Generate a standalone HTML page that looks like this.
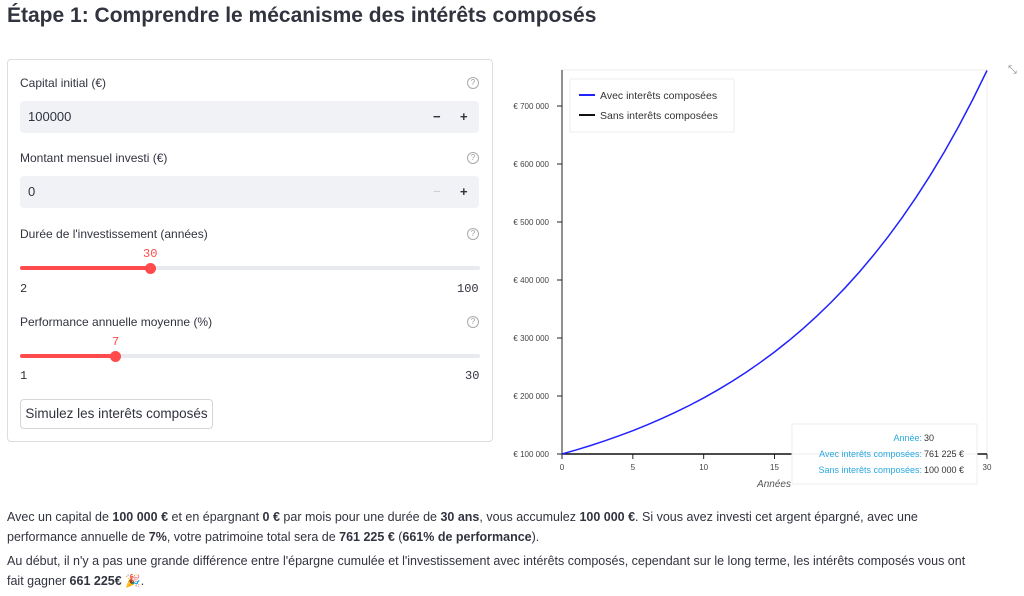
<!DOCTYPE html>
<html><head><meta charset="utf-8"><style>
body{margin:0;width:1024px;height:596px;background:#fff;font-family:"Liberation Sans",sans-serif;color:#31333F;position:relative;overflow:hidden}
.a{position:absolute}
.lbl{font-size:12px;left:20px}
.q{left:467px;width:10px;height:10px;border:1px solid #aaa;border-radius:50%;font-size:8px;text-align:center;line-height:10px;color:#999}
.inp{left:20px;width:459px;height:32px;background:#f0f2f6;border-radius:4px}
.inp span{position:absolute;top:8px;font-size:13px}
.mono{font-family:"Liberation Mono",monospace;font-size:12px}
.track{left:20px;width:460px;height:4px;background:#e8eaef;border-radius:2px}
.fill{height:4px;background:#ff4b4b;border-radius:2px}
.knob{width:11px;height:11px;border-radius:50%;background:#ff4b4b}
p{margin:0}
.txt{left:7px;font-size:12.5px;line-height:20px;width:975px}
</style></head><body>
<div class="a" style="left:7px;top:4px;font-size:21px;font-weight:bold">Étape 1: Comprendre le mécanisme des intérêts composés</div>
<div class="a" style="left:7px;top:59px;width:484px;height:381px;border:1px solid #dcdde2;border-radius:4px"></div>
<div class="a lbl" style="top:76px">Capital initial (€)</div>
<div class="a q" style="top:77px">?</div>
<div class="a inp" style="top:101px"><span style="left:8px">100000</span><span style="left:413px;font-weight:bold">−</span><span style="left:440px;font-weight:bold">+</span></div>
<div class="a lbl" style="top:151px">Montant mensuel investi (€)</div>
<div class="a q" style="top:152px">?</div>
<div class="a inp" style="top:176px"><span style="left:8px">0</span><span style="left:413px;color:#ccc">−</span><span style="left:440px;font-weight:bold">+</span></div>
<div class="a lbl" style="top:227px">Durée de l'investissement (années)</div>
<div class="a q" style="top:228px">?</div>
<div class="a mono" style="left:143px;top:247px;color:#ff4b4b">30</div>
<div class="a track" style="top:266px"><div class="fill" style="width:131px"></div></div>
<div class="a knob" style="left:145px;top:263px"></div>
<div class="a mono" style="left:20px;top:282px">2</div>
<div class="a mono" style="left:457px;top:282px">100</div>
<div class="a lbl" style="top:315px">Performance annuelle moyenne (%)</div>
<div class="a q" style="top:316px">?</div>
<div class="a mono" style="left:112px;top:335px;color:#ff4b4b">7</div>
<div class="a track" style="top:354px"><div class="fill" style="width:96px"></div></div>
<div class="a knob" style="left:110px;top:351px"></div>
<div class="a mono" style="left:20px;top:369px">1</div>
<div class="a mono" style="left:465px;top:369px">30</div>
<div class="a" style="left:20px;top:399px;width:191px;height:28px;border:1px solid #d6d6d9;border-radius:4px;font-size:13.5px;line-height:28px;text-align:center">Simulez les interêts composés</div>

<svg class="a" style="left:0;top:0" width="1024" height="596" id="chart"></svg>
<div class="a" style="left:1008px;top:64px;font-size:11px;color:#888">⤡</div>

<div class="a txt" style="top:507px">
<p>Avec un capital de <b>100 000 €</b> et en épargnant <b>0 €</b> par mois pour une durée de <b>30 ans</b>, vous accumulez <b>100 000 €</b>. Si vous avez investi cet argent épargné, avec une performance annuelle de <b>7%</b>, votre patrimoine total sera de <b>761 225 €</b> (<b>661% de performance</b>).</p>
<p style="margin-top:4px">Au début, il n'y a pas une grande différence entre l'épargne cumulée et l'investissement avec intérêts composés, cependant sur le long terme, les intérêts composés vous ont fait gagner <b>661 225€</b> 🎉.</p>
</div>
<script>
const years=[0,1,2,3,4,5,6,7,8,9,10,11,12,13,14,15,16,17,18,19,20,21,22,23,24,25,26,27,28,29,30];
const avec=[100000,107000,114490,122504,131080,140255,150073,160578,171819,183846,196715,210485,225219,240985,257853,275903,295216,315882,337993,361653,386968,414056,443040,474053,507237,542743,580735,621387,664884,711426,761225];
const sans=[100000,100000,100000,100000,100000,100000,100000,100000,100000,100000,100000,100000,100000,100000,100000,100000,100000,100000,100000,100000,100000,100000,100000,100000,100000,100000,100000,100000,100000,100000,100000];
const yTicks=[100000,200000,300000,400000,500000,600000,700000];
const yTickLabels=["€ 100 000","€ 200 000","€ 300 000","€ 400 000","€ 500 000","€ 600 000","€ 700 000"];
const xTicks=[0,5,10,15,20,25,30];
const svg=document.getElementById('chart');const NS='http://www.w3.org/2000/svg';
const X=v=>562+v*(425/30), Y=v=>454-(v-100000)*(58/100000);
function el(t,a,p){const e=document.createElementNS(NS,t);for(const k in a)e.setAttribute(k,a[k]);(p||svg).appendChild(e);return e;}
const frame=el('rect',{x:562,y:70,width:425,height:384,fill:'none',stroke:'#eee'});


el('line',{x1:562,y1:70,x2:562,y2:454,stroke:'#222','stroke-width':1});
yTicks.forEach((v,i)=>{el('line',{x1:557,x2:562,y1:Y(v),y2:Y(v),stroke:'#222'});
const t=el('text',{x:549,y:Y(v)+3,'text-anchor':'end','font-size':8,fill:'#444'});t.textContent=yTickLabels[i];

});
xTicks.forEach(v=>{el('line',{x1:X(v),x2:X(v),y1:454,y2:459,stroke:'#222'});
const t=el('text',{x:X(v),y:470,'text-anchor':'middle','font-size':8,fill:'#444'});t.textContent=v;

});
const xt=el('text',{x:774,y:487,'text-anchor':'middle','font-size':10,'font-style':'italic',fill:'#555'});xt.textContent='Années';


const ls=el('polyline',{points:years.map((y,i)=>X(y)+','+Y(sans[i])).join(' '),fill:'none',stroke:'#111','stroke-width':1.5});


const la=el('polyline',{points:years.map((y,i)=>X(y)+','+Y(avec[i])).join(' '),fill:'none',stroke:'#2222ff','stroke-width':1.5});


const lg=el('g',{});


el('rect',{x:570,y:79,width:164,height:53,fill:'#fff',stroke:'#eee'},lg);
el('line',{x1:579,x2:595,y1:95,y2:95,stroke:'#2222ff','stroke-width':2},lg);
el('line',{x1:579,x2:595,y1:115,y2:115,stroke:'#111','stroke-width':2},lg);
let t1=el('text',{x:600,y:99,'font-size':10.5,fill:'#333'},lg);t1.textContent='Avec interêts composées';
let t2=el('text',{x:600,y:119,'font-size':10.5,fill:'#333'},lg);t2.textContent='Sans interêts composées';
const tt=el('g',{});


el('rect',{x:792,y:424,width:185,height:60,fill:'#fff','fill-opacity':0.95,stroke:'#eee'},tt);
[['Année:','30',441],['Avec interêts composées:','761 225 €',457],['Sans interêts composées:','100 000 €',473]].forEach(r=>{
const a=el('text',{x:922,y:r[2],'text-anchor':'end','font-size':9,fill:'#29a8e0'},tt);a.textContent=r[0];
const b=el('text',{x:924,y:r[2],'font-size':9,fill:'#333'},tt);b.textContent=r[1];});
</script>
</body></html>
